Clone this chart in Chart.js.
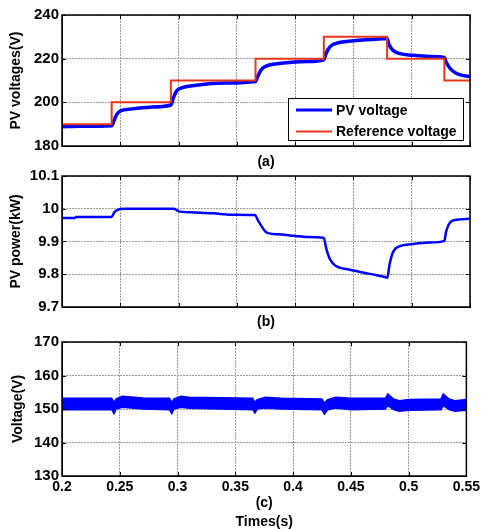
<!DOCTYPE html>
<html lang="en">
<head>
  <meta charset="UTF-8">
  <title>PV voltage / power / voltage</title>
  <script src="https://cdn.jsdelivr.net/npm/chart.js"></script>
  <style>
    html, body { margin: 0; padding: 0; background: #fff; overflow: hidden; }
    #wrap { position: relative; width: 483px; height: 529px; }
    #wrap canvas { position: absolute; left: 0; }
  </style>
</head>
<body>
  <div id="wrap">
    <canvas id="chartA" width="483" height="171" style="top:0px"></canvas>
    <canvas id="chartB" width="483" height="180" style="top:156px"></canvas>
    <canvas id="chartC" width="483" height="207" style="top:322px"></canvas>
  </div>

  <script>
    // shared time axis (s)
    const timeTicks = [0.2, 0.25, 0.3, 0.35, 0.4, 0.45, 0.5, 0.55];

    // (a) PV voltage vs reference
    const refTime = [0.2, 0.2426, 0.2934, 0.366, 0.4246, 0.4789, 0.528, 0.55];
    const refVolt = [190, 200, 210, 220, 230, 220, 210, 210];
    const pvTime = [0.2, 0.215, 0.2426, 0.2445, 0.247, 0.25, 0.26, 0.275, 0.2934,
      0.2955, 0.298, 0.302, 0.315, 0.34, 0.366, 0.368, 0.371, 0.375, 0.39, 0.41, 0.4246,
      0.4266, 0.43, 0.434, 0.45, 0.465, 0.4789, 0.4805, 0.484, 0.49, 0.5, 0.515, 0.528,
      0.5295, 0.533, 0.538, 0.545, 0.55];
    const pvVolt = [188.8, 189.0, 189.3, 191.5, 194.5, 196.0, 197.0, 197.8, 198.8,
      202.0, 205.0, 206.5, 207.8, 208.8, 209.5, 212.0, 215.0, 216.6, 218.0, 218.7, 219.5,
      222.5, 225.5, 226.8, 228.2, 228.8, 229.2, 226.5, 223.8, 222.3, 221.6, 221.0, 220.6,
      218.5, 215.5, 213.3, 212.2, 211.8];
    const voltTicks = [180, 200, 220, 240];

    // (b) PV power (kW)
    const powTime = [0.2, 0.211, 0.212, 0.2426, 0.245, 0.25, 0.255, 0.296, 0.3, 0.31,
      0.33, 0.345, 0.3656, 0.368, 0.3706, 0.3756, 0.385, 0.4, 0.41, 0.4246, 0.4266, 0.43,
      0.435, 0.445, 0.46, 0.47, 0.4775, 0.479, 0.481, 0.484, 0.49, 0.5, 0.515, 0.528,
      0.5295, 0.534, 0.54, 0.55];
    const powKW = [9.972, 9.972, 9.975, 9.975, 9.99, 9.999, 10.0, 10.0, 9.992, 9.989,
      9.986, 9.982, 9.981, 9.965, 9.95, 9.927, 9.922, 9.917, 9.914, 9.911, 9.88, 9.845,
      9.825, 9.815, 9.804, 9.797, 9.791, 9.789, 9.83, 9.868, 9.886, 9.892, 9.897, 9.902,
      9.93, 9.962, 9.967, 9.97];
    const powTicks = [9.7, 9.8, 9.9, 10, 10.1];

    // (c) voltage ripple band (upper / lower envelope)
    const dcTime = [0.2, 0.243, 0.245, 0.247, 0.252, 0.26, 0.27, 0.293, 0.295, 0.297,
      0.303, 0.31, 0.365, 0.367, 0.369, 0.376, 0.39, 0.425, 0.427, 0.43, 0.437, 0.45,
      0.48, 0.482, 0.487, 0.492, 0.5, 0.528, 0.53, 0.535, 0.54, 0.55];
    const dcUpper = [153.2, 153.2, 152.0, 153.0, 153.8, 153.6, 153.3, 153.2, 152.0, 153.0,
      153.8, 153.5, 153.2, 152.0, 152.8, 153.5, 153.2, 153.0, 151.8, 152.8, 153.5, 153.2,
      153.2, 154.5, 153.0, 152.5, 152.8, 153.0, 154.5, 153.0, 152.5, 152.8];
    const dcLower = [149.8, 149.8, 148.6, 150.0, 150.5, 150.3, 150.0, 149.8, 148.6, 150.0,
      150.5, 150.2, 149.8, 148.8, 150.0, 150.3, 150.0, 149.8, 148.5, 149.8, 150.3, 149.8,
      150.0, 151.0, 149.8, 149.3, 149.6, 149.8, 151.0, 149.8, 149.3, 149.6];
    const dcTicks = [130, 140, 150, 160, 170];

    const BLUE = '#0000ff';
    const RED = '#e8361a';
    const FONT = '"Liberation Sans", Arial, sans-serif';

    Chart.defaults.font = { family: FONT, size: 14, weight: 'bold' };
    Chart.defaults.color = '#000';

    function pts(t, v) {
      return t.map((x, i) => ({ x: x, y: v[i] }));
    }

    // black frame round the plot area, with small inward ticks (matlab style)
    const boxPlugin = {
      id: 'box',
      afterDraw(chart) {
        const { ctx, chartArea: a, scales } = chart;
        ctx.save();
        ctx.strokeStyle = '#000';
        ctx.lineWidth = 1;
        ctx.beginPath();
        scales.x.ticks.forEach(t => {
          const px = Math.round(scales.x.getPixelForValue(t.value)) + 0.5;
          ctx.moveTo(px, a.bottom); ctx.lineTo(px, a.bottom - 4);
          ctx.moveTo(px, a.top); ctx.lineTo(px, a.top + 4);
        });
        scales.y.ticks.forEach(t => {
          const py = Math.round(scales.y.getPixelForValue(t.value)) + 0.5;
          ctx.moveTo(a.left, py); ctx.lineTo(a.left + 4, py);
          ctx.moveTo(a.right, py); ctx.lineTo(a.right - 4, py);
        });
        ctx.stroke();
        ctx.lineWidth = 1.5;
        ctx.strokeRect(a.left, a.top, a.width, a.height);
        ctx.restore();
      }
    };

    // boxed legend in the lower right corner of plot (a)
    const legendBox = {
      id: 'legendBox',
      afterDraw(chart) {
        const { ctx, chartArea: a } = chart;
        const sets = chart.data.datasets;
        ctx.save();
        ctx.font = 'bold 14px ' + FONT;
        const textW = Math.max(...sets.map(d => ctx.measureText(d.label).width));
        const w = Math.round(8 + 36 + 4 + textW + 6), h = 42;
        const x = Math.round(a.right - 7 - w), y = Math.round(a.bottom - 6 - h);
        ctx.fillStyle = '#fff';
        ctx.fillRect(x, y, w, h);
        ctx.strokeStyle = '#000';
        ctx.lineWidth = 1;
        ctx.strokeRect(x + 0.5, y + 0.5, w, h);
        ctx.textBaseline = 'middle';
        ctx.fillStyle = '#000';
        sets.forEach((d, i) => {
          const cy = y + 12 + i * 21.5;
          ctx.strokeStyle = d.borderColor;
          ctx.lineWidth = i === 0 ? 3 : 2;
          ctx.beginPath();
          ctx.moveTo(x + 8, cy); ctx.lineTo(x + 44, cy);
          ctx.stroke();
          ctx.fillText(d.label, x + 48, cy + 1);
        });
        ctx.restore();
      }
    };

    function gridOpts() {
      return { color: '#9a9a9a', lineWidth: 1, drawTicks: false };
    }

    function xScale(showLabels, titleText, titlePad, height) {
      return {
        type: 'linear',
        min: 0.2,
        max: 0.55,
        afterBuildTicks: s => { s.ticks = timeTicks.map(v => ({ value: v })); },
        afterFit: s => { s.height = height; },
        ticks: { display: showLabels, padding: 3, maxRotation: 0, autoSkip: false,
          callback: v => String(v) },
        grid: gridOpts(),
        border: { display: true, color: '#000', width: 1, dash: [2, 1] },
        title: { display: true, text: titleText, padding: titlePad, font: { size: 14, weight: 'bold', lineHeight: 1.33 } }
      };
    }

    function yScale(min, max, tickArr, titleText, titleTop) {
      return {
        min: min,
        max: max,
        afterBuildTicks: s => { s.ticks = tickArr.map(v => ({ value: v })); },
        afterFit: s => { s.width = 62; },
        ticks: { padding: 3, font: { size: 15, weight: 'bold' }, callback: v => String(v) },
        grid: gridOpts(),
        border: { display: true, color: '#000', width: 1, dash: [2, 1] },
        title: { display: true, text: titleText, padding: { top: titleTop, bottom: 0 } }
      };
    }

    const common = {
      responsive: false,
      animation: false,
      events: [],
      plugins: { legend: { display: false }, tooltip: { enabled: false } },
      elements: { point: { radius: 0 } }
    };

    // (a)
    new Chart(document.getElementById('chartA'), {
      type: 'line',
      data: {
        datasets: [
          { label: 'PV voltage', data: pts(pvTime, pvVolt), borderColor: BLUE, borderWidth: 3.5,
            cubicInterpolationMode: 'monotone', order: 1 },
          { label: 'Reference voltage', data: pts(refTime, refVolt), borderColor: RED, borderWidth: 2,
            stepped: 'before', order: 0 }
        ]
      },
      options: Object.assign({}, common, {
        layout: { padding: { top: 15, right: 13, left: 0, bottom: 0 } },
        scales: {
          x: xScale(false, '(a)', { top: 0, bottom: 0 }, 25),
          y: yScale(180, 240, voltTicks, 'PV voltages(V)', 8)
        }
      }),
      plugins: [boxPlugin, legendBox]
    });

    // (b)
    new Chart(document.getElementById('chartB'), {
      type: 'line',
      data: {
        datasets: [
          { label: 'PV power', data: pts(powTime, powKW), borderColor: BLUE, borderWidth: 2.5,
            cubicInterpolationMode: 'monotone' }
        ]
      },
      options: Object.assign({}, common, {
        layout: { padding: { top: 20, right: 13, left: 0, bottom: 0 } },
        scales: {
          x: xScale(false, '(b)', { top: 0, bottom: 4.3 }, 29),
          y: yScale(9.7, 10.1, powTicks, 'PV power(kW)', 8)
        }
      }),
      plugins: [boxPlugin]
    });

    // (c)
    new Chart(document.getElementById('chartC'), {
      type: 'line',
      data: {
        datasets: [
          { label: 'Voltage max', data: pts(dcTime, dcUpper), borderColor: BLUE, borderWidth: 1.5,
            backgroundColor: BLUE, fill: '+1' },
          { label: 'Voltage min', data: pts(dcTime, dcLower), borderColor: BLUE, borderWidth: 1.5,
            fill: false }
        ]
      },
      options: Object.assign({}, common, {
        layout: { padding: { top: 20, right: 13, left: 0, bottom: 0 } },
        scales: {
          x: xScale(true, ['(c)', 'Times(s)'], { top: 0, bottom: -2 }, 53),
          y: yScale(130, 170, dcTicks, 'Voltage(V)', 10)
        }
      }),
      plugins: [boxPlugin]
    });
  </script>
</body>
</html>
